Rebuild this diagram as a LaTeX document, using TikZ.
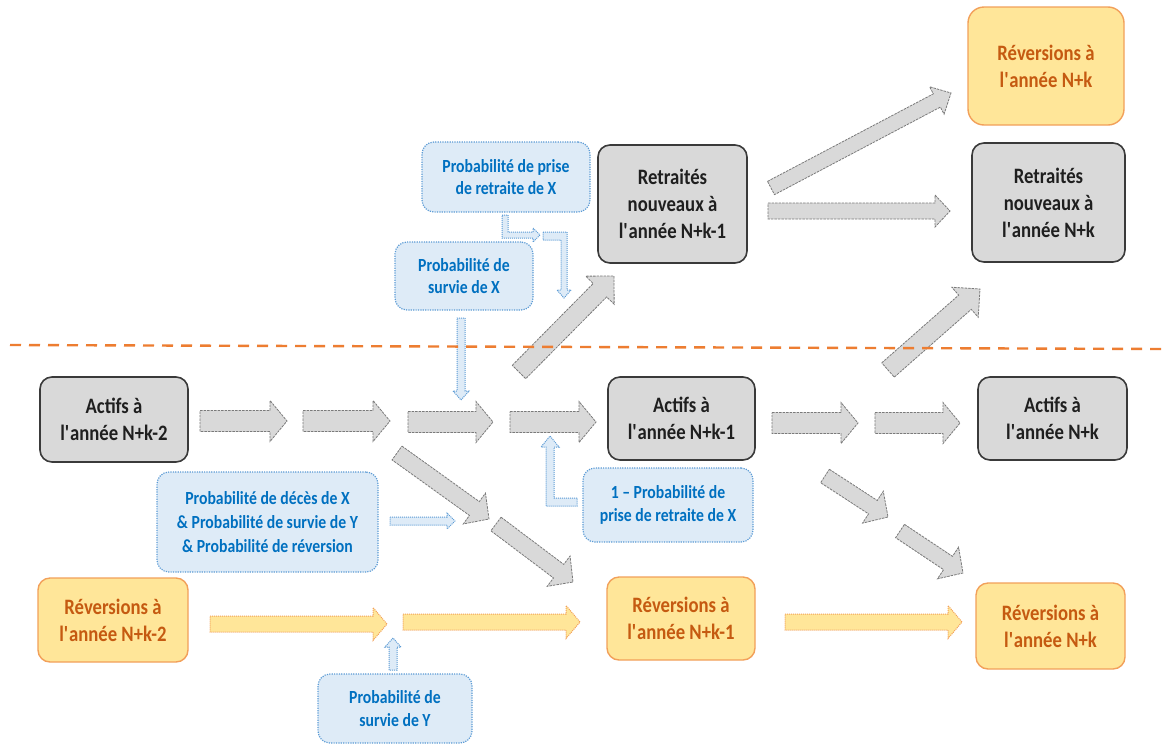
\documentclass[tikz,border=0pt]{standalone}
\usepackage{fontspec}
\setmainfont[FakeStretch=0.85]{Carlito}
\usetikzlibrary{calc}

\definecolor{boxgray}{HTML}{D9D9D9}
\definecolor{edgegray}{HTML}{3A3A3A}
\definecolor{arrowedge}{HTML}{7A7A7A}
\definecolor{revfill}{HTML}{FFE699}
\definecolor{revedge}{HTML}{F2A05A}
\definecolor{revtext}{HTML}{C55A11}
\definecolor{probfill}{HTML}{DEEBF7}
\definecolor{probedge}{HTML}{5B9BD5}
\definecolor{probtext}{HTML}{0070C0}
\definecolor{splitcol}{HTML}{ED7D31}

% block arrow: [style]{tail}{tip}{half shaft}{half head}{head length}
\newcommand\blockarrow[6][]{%
  \coordinate (bahd) at ($(#3)!#6!(#2)$);
  \draw[#1] ($(#2)!#4!90:(#3)$) -- ($(bahd)!#4!90:(#3)$) -- ($(bahd)!#5!90:(#3)$)
    -- (#3) -- ($(bahd)!#5!-90:(#3)$) -- ($(bahd)!#4!-90:(#3)$)
    -- ($(#2)!#4!-90:(#3)$) -- cycle;}

\tikzset{
  boxbase/.style={rounded corners=12pt, align=center, inner sep=0pt},
  boxsize/.style 2 args={minimum width=#1pt, minimum height=#2pt},
  bigtext/.style={font=\fontsize{22}{27}\selectfont\bfseries},
  graybox/.style={boxbase, bigtext, fill=boxgray, draw=edgegray, line width=1.6pt, text=black!88},
  revbox/.style={boxbase, bigtext, fill=revfill, draw=revedge, line width=1.4pt, text=revtext},
  probbox/.style={boxbase, fill=probfill, draw=probedge, line width=1.2pt,
    dash pattern=on 1.2pt off 1.2pt, text=probtext,
    font=\fontsize{18.5}{22.5}\selectfont\bfseries},
  grayarrow/.style={fill=boxgray, draw=arrowedge, line width=0.8pt, dash pattern=on 2.5pt off 1pt},
  revarrow/.style={fill=revfill, draw=revedge, line width=1pt, dash pattern=on 1pt off 1pt},
  probarrow/.style={fill=probfill, draw=probedge, line width=1pt, dash pattern=on 1pt off 1pt},
  splitline/.style={draw=splitcol, line width=2.4pt, dash pattern=on 11pt off 8pt},
}

\begin{document}
\begin{tikzpicture}[x=1pt, y=-1pt]
\fill[white] (0,0) rectangle (1166,745);
\useasboundingbox (0,0) rectangle (1166,745);

% ---- state boxes ----
\node[graybox, boxsize={148}{85}] (A2) at (114,419.5) {Actifs à\\l\textquotesingle année N+k-2};
\node[graybox, boxsize={147}{83}] (A1) at (681.5,418.5) {Actifs à\\l\textquotesingle année N+k-1};
\node[graybox, boxsize={149}{83}] (A0) at (1052.5,418.5) {Actifs à\\l\textquotesingle année N+k};
\node[graybox, boxsize={149}{118}] (R1) at (672.5,204) {Retraités\\nouveaux à\\l\textquotesingle année N+k-1};
\node[graybox, boxsize={153}{119}] (R0) at (1048.5,202.5) {Retraités\\nouveaux à\\l\textquotesingle année N+k};
\node[revbox, boxsize={150}{84}] (V2) at (113,620) {Réversions à\\l\textquotesingle année N+k-2};
\node[revbox, boxsize={148}{83}] (V1) at (681,618.5) {Réversions à\\l\textquotesingle année N+k-1};
\node[revbox, boxsize={149}{86}] (V0) at (1050.5,626) {Réversions à\\l\textquotesingle année N+k};
\node[revbox, boxsize={156}{118}, rounded corners=16pt] (VT) at (1046,66) {Réversions à\\l\textquotesingle année N+k};

% ---- probability boxes ----
\node[probbox, boxsize={168}{70}] (P1) at (506,177) {Probabilité de prise\\de retraite de X};
\node[probbox, boxsize={138}{68}] (P2) at (464,276) {Probabilité de\\survie de X};
\node[probbox, boxsize={221}{100}, font=\fontsize{18.5}{24}\selectfont\bfseries] (P3) at (267.5,522)
  {Probabilité de décès de X\\\& Probabilité de survie de Y\\\& Probabilité de réversion};
\node[probbox, boxsize={170}{74}] (P4) at (668,505) {1 – Probabilité de\\prise de retraite de X};
\node[probbox, boxsize={154}{69}] (P5) at (395,708.5) {Probabilité de\\survie de Y};

% ---- ends of the flow arrows ----
\coordinate (g1a) at (200,421); \coordinate (g1b) at (287,421);
\coordinate (g2a) at (303,421); \coordinate (g2b) at (390,421);
\coordinate (g3a) at (408,422); \coordinate (g3b) at (493,422);
\coordinate (g4a) at (510,422); \coordinate (g4b) at (596,422);
\coordinate (g5a) at (772,423); \coordinate (g5b) at (858,423);
\coordinate (g6a) at (875,423); \coordinate (g6b) at (960,423);
\coordinate (u1a) at (519,372); \coordinate (u1b) at (614,276);
\coordinate (u2a) at (888,370); \coordinate (u2b) at (980,289);
\coordinate (t1a) at (771,188); \coordinate (t1b) at (951,93);
\coordinate (t2a) at (768,211); \coordinate (t2b) at (950,211);
\coordinate (d1a) at (397,453); \coordinate (d1b) at (489,519);
\coordinate (d2a) at (496,524); \coordinate (d2b) at (573,582);
\coordinate (d3a) at (825,476); \coordinate (d3b) at (888,517);
\coordinate (d4a) at (900,531); \coordinate (d4b) at (963,573);
\coordinate (o1a) at (210,624); \coordinate (o1b) at (387,624);
\coordinate (o2a) at (403,622); \coordinate (o2b) at (580,622);
\coordinate (o3a) at (785,622); \coordinate (o3b) at (962,622);
\coordinate (b1a) at (461,318); \coordinate (b1b) at (461,400);
\coordinate (b4a) at (390,521); \coordinate (b4b) at (455,521);
\coordinate (b5a) at (393,670); \coordinate (b5b) at (393,638);

% ---- grey flows ----
\blockarrow[grayarrow]{g1a}{g1b}{10.5pt}{20.5pt}{17pt}
\blockarrow[grayarrow]{g2a}{g2b}{10.5pt}{20.5pt}{17pt}
\blockarrow[grayarrow]{g3a}{g3b}{10.5pt}{20.5pt}{17pt}
\blockarrow[grayarrow]{g4a}{g4b}{10.5pt}{20.5pt}{17pt}
\blockarrow[grayarrow]{g5a}{g5b}{10.5pt}{20.5pt}{17pt}
\blockarrow[grayarrow]{g6a}{g6b}{10.5pt}{20.5pt}{17pt}
\blockarrow[grayarrow]{u1a}{u1b}{9.5pt}{20pt}{20pt}
\blockarrow[grayarrow]{u2a}{u2b}{9.5pt}{20pt}{20pt}
\blockarrow[grayarrow]{t1a}{t1b}{7.5pt}{15.5pt}{16pt}
\blockarrow[grayarrow]{t2a}{t2b}{8pt}{16pt}{15pt}
\blockarrow[grayarrow]{d1a}{d1b}{8.5pt}{19pt}{18pt}
\blockarrow[grayarrow]{d2a}{d2b}{8.5pt}{19pt}{18pt}
\blockarrow[grayarrow]{d3a}{d3b}{8pt}{19pt}{18pt}
\blockarrow[grayarrow]{d4a}{d4b}{8pt}{19pt}{18pt}

% ---- reversion flows ----
\blockarrow[revarrow]{o1a}{o1b}{8pt}{16.5pt}{14pt}
\blockarrow[revarrow]{o2a}{o2b}{8pt}{16.5pt}{14pt}
\blockarrow[revarrow]{o3a}{o3b}{8pt}{16.5pt}{14pt}

% ---- probability pointers ----
\blockarrow[probarrow]{b1a}{b1b}{4pt}{8pt}{9pt}
\blockarrow[probarrow]{b4a}{b4b}{4pt}{8pt}{8pt}
\blockarrow[probarrow]{b5a}{b5b}{4pt}{8pt}{9pt}
\draw[probarrow] (502,215) -- (508,215) -- (508,232) -- (533,232) -- (533,228) -- (540,235)
  -- (533,242) -- (533,238) -- (502,238) -- cycle;
\draw[probarrow] (543,232) -- (567,232) -- (567,290) -- (571,290) -- (564,298) -- (557,290)
  -- (561,290) -- (561,240) -- (543,240) -- cycle;
\draw[probarrow] (577,498) -- (554,498) -- (554,447) -- (559,447) -- (550,436) -- (541,447)
  -- (546,447) -- (546,506) -- (577,506) -- cycle;

% ---- separation between active and retired ----
\draw[splitline] (10,345) -- (1166,349);
\end{tikzpicture}
\end{document}
